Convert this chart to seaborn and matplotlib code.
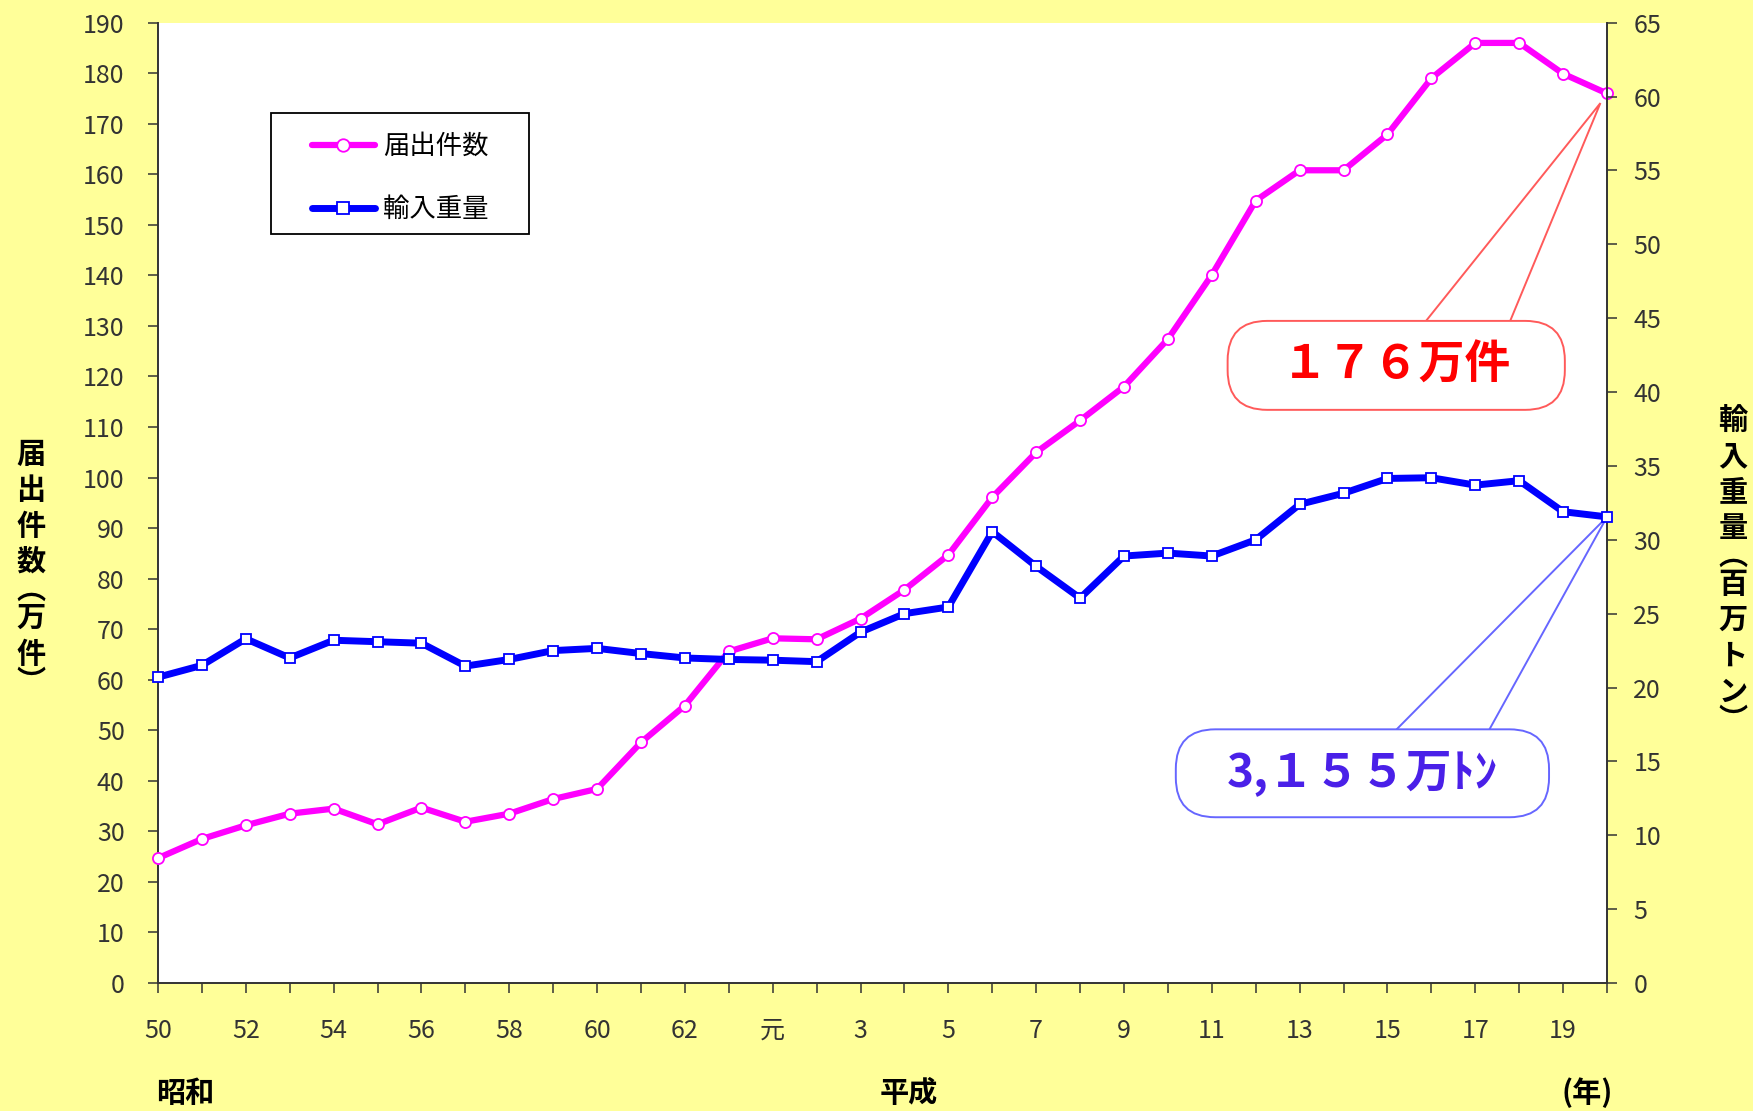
#!/usr/bin/env python3

import numpy as np
import seaborn as sns
import matplotlib
matplotlib.use('Agg')
import matplotlib.pyplot as plt
from matplotlib.lines import Line2D
from matplotlib.patches import FancyBboxPatch, Polygon, Rectangle

# 昭和50年(1975) 〜 平成20年(2008)
years = list(range(1975, 2009))
tick_labels = ['50', '', '52', '', '54', '', '56', '', '58', '', '60', '', '62', '',
               '元', '', '3', '', '5', '', '7', '', '9', '', '11', '', '13', '', '15', '', '17', '', '19', '']

# 届出件数 (万件)
counts = [24.7, 28.5, 31.2, 33.5, 34.5, 31.4, 34.7, 31.9, 33.5, 36.4, 38.4, 47.6, 54.9, 65.6,
          68.2, 68.0, 72.1, 77.8, 84.7, 96.1, 105.0, 111.3, 118.0, 127.4, 140.1, 154.8,
          160.8, 160.8, 167.9, 179.0, 186.0, 186.0, 179.9, 176.0]

# 輸入重量 (百万トン)
weights = [20.7, 21.5, 23.3, 22.0, 23.2, 23.1, 23.0, 21.45, 21.9, 22.5, 22.65, 22.3, 22.0, 21.9,
           21.85, 21.75, 23.75, 25.0, 25.45, 30.55, 28.2, 26.05, 28.9, 29.1, 28.9, 30.0,
           32.4, 33.15, 34.15, 34.2, 33.7, 34.0, 31.9, 31.55]

PINK = '#FF00FF'
BLUE = '#0000FF'
BG = '#FFFF99'
DARK = '#333333'

sns.set_theme(style='ticks', rc={
    'axes.edgecolor': DARK,
    'axes.linewidth': 1.4,
    'xtick.color': DARK,
    'ytick.color': DARK,
    'text.color': 'black',
})
plt.rcParams['font.family'] = ['Noto Sans CJK JP', 'DejaVu Sans']

W, H = 1753, 1111
fig = plt.figure(figsize=(W / 100, H / 100), dpi=100, facecolor=BG)
ax = fig.add_axes([158 / W, 1 - 983 / H, 1449 / W, 960.3 / H])
ax.set_facecolor('white')
ax2 = ax.twinx()

x = np.arange(len(years))

sns.lineplot(x=x, y=counts, ax=ax, color=PINK, linewidth=4.5, marker='o', markersize=8,
             markerfacecolor='white', markeredgecolor=PINK, markeredgewidth=1.3,
             clip_on=False, zorder=3, legend=False)
sns.lineplot(x=x, y=weights, ax=ax2, color=BLUE, linewidth=5, marker='s', markersize=7,
             markerfacecolor='white', markeredgecolor=BLUE, markeredgewidth=1.3,
             clip_on=False, zorder=3, legend=False)

ax.set_xlim(0, len(years) - 1)
ax.set_ylim(0, 190)
ax2.set_ylim(0, 65)
ax.set_xticks(x)
ax.set_xticklabels(tick_labels)
ax.set_yticks(np.arange(0, 191, 10))
ax2.set_yticks(np.arange(0, 66, 5))
ax.set_xlabel('')
ax.set_ylabel('')
ax2.set_ylabel('')

for a in (ax, ax2):
    a.spines['top'].set_visible(False)
    a.grid(False)
ax.spines['right'].set_visible(False)
ax2.spines['left'].set_visible(False)
ax2.spines['bottom'].set_visible(False)

ax.tick_params(axis='x', direction='out', length=7, width=1.1, pad=18, labelsize=18)
ax.tick_params(axis='y', direction='out', length=7, width=1.1, pad=17, labelsize=18)
ax2.tick_params(axis='y', direction='out', length=7, width=1.1, pad=12, labelsize=18)


def callout(axis, box, base, tip, aspect, text, color, edge, size):
    x0, x1, y0, y1 = box
    yb = y1 - 0.03 * (y1 - y0)
    wedge = Polygon([(base[0], yb), tip, (base[1], yb)], closed=False,
                    facecolor='white', edgecolor=edge, lw=1.4, zorder=2, clip_on=False)
    axis.add_patch(wedge)
    r = 0.9
    patch = FancyBboxPatch((x0, y0), x1 - x0, y1 - y0,
                           boxstyle='round,pad=0,rounding_size={}'.format(r),
                           mutation_aspect=aspect, facecolor='white', edgecolor=edge,
                           lw=1.4, zorder=2.5, clip_on=False)
    axis.add_patch(patch)
    axis.text((x0 + x1) / 2, (y0 + y1) / 2, text, ha='center', va='center',
              color=color, fontsize=size, fontweight='bold', zorder=6)


px_x = 1449 / 33
callout(ax, (24.36, 32.04, 113.4, 131.0), (28.83, 30.77), (32.85, 174.1),
        px_x / (960.3 / 190), '１７６万件', '#FF0000', '#FF5A5A', 33)
callout(ax2, (23.18, 31.68, 11.22, 17.17), (28.15, 30.29), (x[-1], weights[-1]),
        px_x / (960.3 / 65), '3,１５５万ﾄﾝ', '#4A20E8', '#6666FF', 33)

# legend
handles = [
    Line2D([], [], color=PINK, lw=4.5, marker='o', markersize=9, markerfacecolor='white',
           markeredgecolor=PINK, markeredgewidth=1.3),
    Line2D([], [], color=BLUE, lw=5, marker='s', markersize=8, markerfacecolor='white',
           markeredgecolor=BLUE, markeredgewidth=1.3),
]
fig.legend(handles, ['届出件数', '輸入重量'], loc='center',
           bbox_to_anchor=(400 / W, 1 - 178 / H), frameon=False, fontsize=19,
           handlelength=2.4, handletextpad=0.3, labelspacing=1.35)
fig.add_artist(Rectangle((271 / W, 1 - 234 / H), 258 / W, 121 / H, transform=fig.transFigure,
                         fill=False, edgecolor='black', lw=1.3))


def stack(chars, xc, ytop, size):
    y = ytop
    for ch in chars:
        h = 20 if ch in '︵︶' else 36
        fig.text(xc / W, 1 - (y + h / 2) / H, ch, ha='center', va='center',
                 fontsize=size, fontweight='bold')
        y += h


stack('届出件数︵万件︶', 31, 436, 21)
stack('輸入重量︵百万トン︶', 1733, 402, 21)

fig.text(185 / W, 1 - 1093 / H, '昭和', ha='center', va='center', fontsize=21, fontweight='bold')
fig.text(909 / W, 1 - 1093 / H, '平成', ha='center', va='center', fontsize=21, fontweight='bold')
fig.text(1587 / W, 1 - 1093 / H, '(年)', ha='center', va='center', fontsize=21, fontweight='bold')

fig.savefig('out.png', dpi=100, facecolor=fig.get_facecolor())
